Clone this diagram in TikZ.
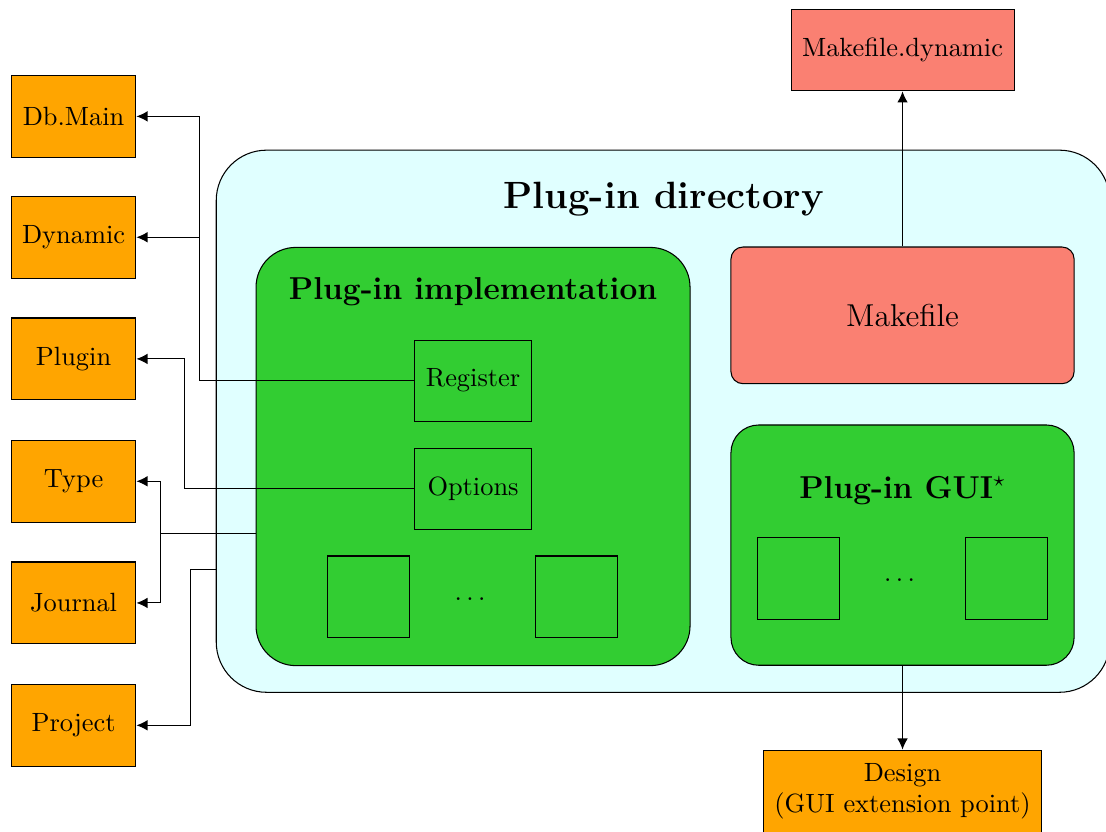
\documentclass[tikz,border=0pt]{standalone}
\usetikzlibrary{arrows.meta}
\definecolor{extorange}{HTML}{FFA500}
\definecolor{mksalmon}{HTML}{FA8072}
\definecolor{plggreen}{HTML}{32CD32}
\definecolor{dircyan}{HTML}{E0FFFF}
\begin{document}
\begin{tikzpicture}[
        ext/.style={draw, fill=extorange, inner sep=0pt, minimum width=1.66cm, minimum height=1.09cm},
        mk/.style={draw, fill=mksalmon, inner sep=0pt},
        part/.style={draw, fill=plggreen, inner sep=0pt},
        sq/.style={draw, fill=plggreen, inner sep=0pt, minimum size=1.09cm},
        conn/.style={-{Latex[length=4.2pt,width=4pt]}}
    ]
        \useasboundingbox (0,0) rectangle (14.73,11.08);

        % outer directory
        \node[draw, fill=dircyan, rounded corners=0.67cm, minimum width=11.90cm, minimum height=7.22cm] (dir) at (8.83,5.47) {};
        \node[font=\Large\bfseries] (dirtitle) at (8.84,8.43) {Plug-in directory};

        % implementation
        \node[part, rounded corners=0.53cm, minimum width=5.78cm, minimum height=5.57cm] (impl) at (6.30,5.0) {};
        \node[font=\large\bfseries] (impltitle) at (6.30,7.20) {Plug-in implementation};
        \node[sq, minimum width=1.55cm, minimum height=1.08cm] (reg) at (6.30,6.01) {Register};
        \node[sq, minimum width=1.55cm, minimum height=1.08cm] (opt) at (6.30,4.57) {Options};
        \node[sq] (isq1) at (4.91,3.13) {};
        \node[sq] (isq2) at (7.68,3.13) {};
        \node (idots) at (6.26,3.10) {$\dots$};

        % makefile and gui
        \node[mk, rounded corners=0.16cm, minimum width=4.57cm, minimum height=1.82cm, font=\large] (make) at (12.02,6.88) {Makefile};
        \node[part, rounded corners=0.37cm, minimum width=4.57cm, minimum height=3.20cm] (gui) at (12.02,3.82) {};
        \node[font=\large\bfseries] (guititle) at (12.02,4.55) {Plug-in GUI$^\star$};
        \node[sq] (gsq1) at (10.63,3.38) {};
        \node[sq] (gsq2) at (13.40,3.38) {};
        \node (gdots) at (11.98,3.36) {$\dots$};

        % outside
        \node[mk, minimum width=2.97cm, minimum height=1.08cm] (mkdyn) at (12.02,10.41) {Makefile.dynamic};
        \node[ext, minimum width=3.71cm, minimum height=1.10cm, align=center] (design) at (12.02,0.54) {Design\\(GUI extension point)};

        \node[ext] (dbmain) at (0.98,9.53) {Db.Main};
        \node[ext] (dynamic) at (0.98,7.92) {Dynamic};
        \node[ext] (plugin) at (0.98,6.30) {Plugin};
        \node[ext] (type) at (0.98,4.67) {Type};
        \node[ext] (journal) at (0.98,3.05) {Journal};
        \node[ext] (project) at (0.98,1.42) {Project};

        \coordinate (busA) at (2.66,0);
        \coordinate (busB) at (2.46,0);
        \coordinate (busC) at (2.14,0);
        \coordinate (busD) at (2.54,0);

        \draw[conn] (reg.west) -- (reg.west -| busA) |- (dbmain.east);
        \draw[conn] (reg.west) -- (reg.west -| busA) |- (dynamic.east);
        \draw[conn] (opt.west) -- (opt.west -| busB) |- (plugin.east);
        \draw[conn] ([yshift=-1.02cm]impl.west) -- ([yshift=-1.02cm]impl.west -| busC) |- (type.east);
        \draw[conn] ([yshift=-1.02cm]impl.west) -- ([yshift=-1.02cm]impl.west -| busC) |- (journal.east);
        \draw[conn] ([yshift=-1.97cm]dir.west) -- ([yshift=-1.97cm]dir.west -| busD) |- (project.east);

        \draw[conn] (make) -- (mkdyn);
        \draw[conn] (gui) -- (design);
    \end{tikzpicture}
\end{document}
